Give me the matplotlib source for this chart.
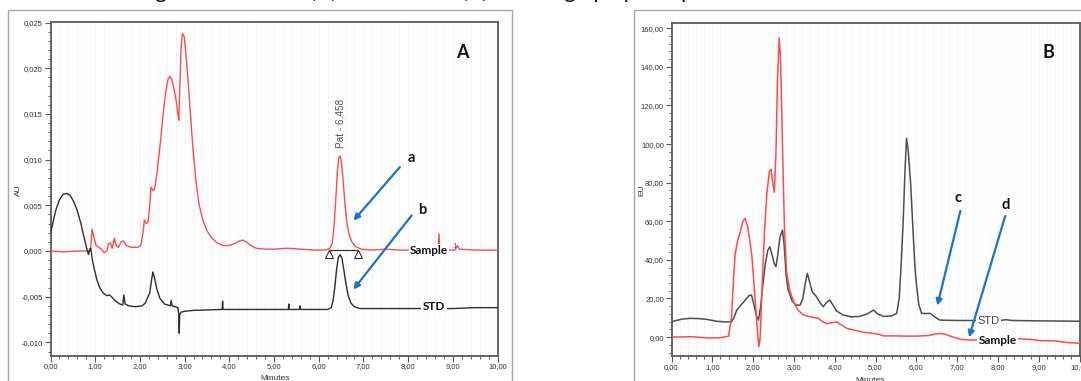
import matplotlib
matplotlib.use("Agg")
import matplotlib.pyplot as plt
from matplotlib.ticker import MultipleLocator, FuncFormatter
from matplotlib.patches import Rectangle
import matplotlib.transforms as mtransforms

# ---------------- data ----------------
# Panel A : Patulin, UV detector (AU)
a_sample_t = [0.00, 0.30, 0.60, 0.85, 0.90, 0.93, 0.97, 1.02, 1.08, 1.14, 1.20, 1.26, 1.30, 1.34,
              1.38, 1.43, 1.47, 1.52, 1.58, 1.63, 1.70, 1.80, 1.95, 2.02, 2.07, 2.10, 2.14, 2.18,
              2.22, 2.25, 2.29, 2.33, 2.38, 2.45, 2.52, 2.58, 2.63, 2.67, 2.71, 2.76, 2.81, 2.85,
              2.87, 2.89, 2.92, 2.95, 2.99, 3.03, 3.08, 3.13, 3.19, 3.25, 3.32, 3.40, 3.50, 3.60,
              3.72, 3.85, 4.00, 4.12, 4.22, 4.30, 4.38, 4.48, 4.60, 4.80, 5.00, 5.30, 5.60, 5.90,
              6.15, 6.25, 6.30, 6.34, 6.38, 6.42, 6.45, 6.48, 6.51, 6.55, 6.59, 6.63, 6.68, 6.74,
              6.82, 6.95, 7.20, 7.50, 7.80, 8.10, 8.67, 8.69, 8.71, 9.05, 9.10, 9.15, 9.50, 10.00]
a_sample_y = [0.0000, -0.0001, 0.0000, 0.0000, 0.0003, 0.0024, 0.0015, 0.0006, 0.0004, 0.0002,
              -0.0002, 0.0000, 0.0008, 0.0009, 0.0003, 0.0014, 0.0006, 0.0004, 0.0010, 0.0011,
              0.0006, 0.0004, 0.0004, 0.0006, 0.0020, 0.0034, 0.0030, 0.0032, 0.0050, 0.0070,
              0.0066, 0.0068, 0.0085, 0.0115, 0.0150, 0.0175, 0.0188, 0.0191, 0.0188, 0.0178,
              0.0165, 0.0150, 0.0143, 0.0175, 0.0220, 0.0238, 0.0235, 0.0215, 0.0185, 0.0150,
              0.0110, 0.0078, 0.0052, 0.0035, 0.0022, 0.0015, 0.0009, 0.0006, 0.0006, 0.0008,
              0.0011, 0.0012, 0.0010, 0.0006, 0.0003, 0.0002, 0.0002, 0.0003, 0.0002, 0.0001,
              0.0001, 0.0003, 0.0008, 0.0025, 0.0055, 0.0088, 0.0102, 0.0104, 0.0097, 0.0075,
              0.0050, 0.0031, 0.0018, 0.0010, 0.0005, 0.0002, 0.0001, 0.0002, 0.0001, 0.0001,
              0.0001, 0.0019, 0.0001, 0.0001, 0.0006, 0.0002, 0.0001, 0.0001]

a_std_t = [0.00, 0.05, 0.12, 0.20, 0.28, 0.36, 0.44, 0.52, 0.60, 0.68, 0.75, 0.81, 0.85, 0.88,
           0.90, 0.93, 0.98, 1.04, 1.10, 1.18, 1.26, 1.32, 1.38, 1.46, 1.55, 1.62, 1.64, 1.67,
           1.75, 1.90, 2.05, 2.12, 2.18, 2.22, 2.26, 2.29, 2.33, 2.38, 2.45, 2.55, 2.68, 2.70,
           2.72, 2.85, 2.87, 2.88, 2.89, 2.92, 3.00, 3.20, 3.84, 3.85, 3.86, 5.00, 5.32, 5.33,
           5.34, 5.57, 5.58, 5.59, 6.20, 6.28, 6.32, 6.36, 6.40, 6.44, 6.48, 6.52, 6.56, 6.61,
           6.66, 6.72, 6.80, 6.92, 7.50, 8.20, 9.00, 9.50, 10.00]
a_std_y = [0.0019, 0.0030, 0.0045, 0.0056, 0.0062, 0.0063, 0.0061, 0.0054, 0.0044, 0.0030,
           0.0015, 0.0003, -0.0004, 0.0002, 0.0003, -0.0008, -0.0020, -0.0032, -0.0040, -0.0046,
           -0.0049, -0.0048, -0.0051, -0.0055, -0.0058, -0.0059, -0.0048, -0.0058, -0.0060,
           -0.0061, -0.0060, -0.0057, -0.0050, -0.0046, -0.0032, -0.0023, -0.0030, -0.0042,
           -0.0052, -0.0058, -0.0060, -0.0054, -0.0060, -0.0062, -0.0070, -0.0090, -0.0070,
           -0.0067, -0.0066, -0.0065, -0.0064, -0.0055, -0.0064, -0.0064, -0.0064, -0.0058,
           -0.0064, -0.0064, -0.0060, -0.0064, -0.0064, -0.0062, -0.0055, -0.0040, -0.0020,
           -0.0007, -0.0004, -0.0008, -0.0020, -0.0036, -0.0049, -0.0057, -0.0061, -0.0063,
           -0.0063, -0.0063, -0.0063, -0.0062, -0.0062]

pat_peak_label = "Pat - 6,458"
pat_integration_t = [6.23, 6.88]
pat_integration_y = [0.0001, 0.0001]

# Panel B : fluorescence detector (EU)
b_sample_t = [0.00, 0.50, 0.90, 1.20, 1.40, 1.47, 1.52, 1.56, 1.62, 1.68, 1.75, 1.80, 1.86, 1.92,
              1.97, 2.02, 2.07, 2.11, 2.14, 2.17, 2.22, 2.28, 2.34, 2.40, 2.44, 2.48, 2.52, 2.56,
              2.60, 2.64, 2.67, 2.70, 2.73, 2.77, 2.82, 2.90, 3.00, 3.10, 3.23, 3.40, 3.60, 3.70,
              3.80, 3.95, 4.05, 4.15, 4.30, 4.50, 4.70, 4.95, 5.10, 5.20, 5.50, 5.80, 6.00, 6.30,
              6.45, 6.58, 6.70, 6.90, 7.10, 7.30, 7.60, 8.50, 8.80, 9.00, 9.40, 9.70, 10.00]
b_sample_y = [0.0, 0.2, -0.5, -0.3, 0.5, 10, 30, 43, 50, 54, 60, 61.5, 58, 50, 42, 28, 14, 2, -5,
              -1, 25, 55, 75, 86, 87, 80, 75, 95, 135, 155, 145, 120, 90, 55, 34, 24, 18, 14,
              11.5, 10.5, 9.7, 8, 7, 7.5, 7.8, 6.5, 4.5, 3.5, 2.5, 1.9, 1.3, 0.6, 0.6, 0.5, 0.5,
              0.8, 1.5, 1.9, 1.5, 0.0, -1.2, -1.5, -1.5, -0.8, -1.2, -1.8, -2.0, -2.8, -3.2]

b_std_t = [0.00, 0.10, 0.25, 0.45, 0.65, 0.86, 1.10, 1.30, 1.47, 1.53, 1.60, 1.70, 1.80, 1.90,
           1.96, 2.02, 2.08, 2.13, 2.18, 2.24, 2.30, 2.36, 2.41, 2.46, 2.52, 2.56, 2.60, 2.66,
           2.72, 2.76, 2.81, 2.86, 2.95, 3.05, 3.15, 3.22, 3.28, 3.33, 3.38, 3.45, 3.55, 3.65,
           3.72, 3.80, 3.88, 3.96, 4.05, 4.20, 4.40, 4.60, 4.80, 4.95, 5.05, 5.20, 5.40, 5.52,
           5.58, 5.63, 5.68, 5.72, 5.76, 5.80, 5.86, 5.92, 5.97, 6.01, 6.06, 6.13, 6.25, 6.34,
           6.45, 6.58, 7.00, 7.50, 8.00, 8.20, 8.35, 9.00, 9.60, 10.00]
b_std_y = [7.9, 8.5, 9.3, 9.7, 9.6, 9.2, 8.2, 7.9, 7.9, 10, 14, 16.5, 19, 21.5, 21.8, 17, 11, 8.8,
           15, 27, 38, 45, 46.8, 43, 38, 36.5, 42, 52, 55.4, 48, 32, 24.4, 19, 16.6, 16.5, 20, 28,
           33, 29, 23.5, 21, 17.5, 15.7, 18, 19.2, 16.5, 13.5, 11.5, 10.5, 10.7, 12, 14, 12, 10.7,
           11, 12.3, 20, 38, 60.6, 85, 103, 97, 80, 55, 35, 26, 17, 12.3, 12.2, 12.3, 10.5, 8.8,
           8.6, 8.6, 8.5, 9.0, 8.6, 8.4, 8.3, 8.2]

title_text = "Chromatogram of Patulin (A) and 5-HMF (B) of orange pulp sample"

# ---------------- figure ----------------
W, H = 1081, 381
fig = plt.figure(figsize=(W / 100, H / 100), dpi=100)
fig.patch.set_facecolor("white")


def fx(px):
    return px / W


def fy(py):
    return 1 - py / H


NARROW = ["Liberation Sans Narrow", "Liberation Sans", "DejaVu Sans"]
BOLD = ["Lato", "Open Sans", "DejaVu Sans"]
RED = "#ff4a4a"
BLUE = "#1f73c4"

# outer frames of the two panels
fig.patches.append(Rectangle((fx(8), fy(395)), fx(512) - fx(8), fy(10) - fy(395),
                             transform=fig.transFigure, fill=False, ec="#a6a6a6", lw=1.0))
fig.patches.append(Rectangle((fx(634), fy(395)), fx(1100) - fx(634), fy(10) - fy(395),
                             transform=fig.transFigure, fill=False, ec="#a6a6a6", lw=1.0))


def style_axes(ax, ymajor, yminor, fmt):
    ax.set_xlim(0, 10)
    ax.xaxis.set_major_locator(MultipleLocator(1))
    ax.xaxis.set_minor_locator(MultipleLocator(0.2))
    ax.yaxis.set_major_locator(MultipleLocator(ymajor))
    ax.yaxis.set_minor_locator(MultipleLocator(yminor))
    ax.xaxis.set_major_formatter(FuncFormatter(lambda v, p: f"{v:.2f}".replace(".", ",")))
    ax.yaxis.set_major_formatter(FuncFormatter(lambda v, p: fmt.format(v).replace(".", ",")))
    for s in ax.spines.values():
        s.set_color("#5a5a5a")
        s.set_linewidth(1.3)
    ax.tick_params(which="major", direction="out", length=4, width=0.8, color="#5a5a5a",
                   labelsize=5.5, labelcolor="#333333", pad=1.5)
    ax.tick_params(which="minor", direction="out", length=2, width=0.7, color="#5a5a5a")
    for lab in ax.get_xticklabels() + ax.get_yticklabels():
        lab.set_family(NARROW)
    ax.grid(True, which="both", axis="x", color="#f1f1f1", lw=0.6)
    ax.set_axisbelow(True)


# ---------------- panel A ----------------
axA = fig.add_axes([fx(50.5), fy(355.8), fx(497.5) - fx(50.5), fy(21.7) - fy(355.8)])
axA.set_ylim(-0.01147, 0.02509)
style_axes(axA, 0.005, 0.001, "{:.3f}")
axA.plot(a_sample_t, a_sample_y, color=RED, lw=1.0, zorder=3)
axA.plot(a_std_t, a_std_y, color="#2e2e2e", lw=1.0, zorder=3)
# integration marks of the patulin peak
axA.plot(pat_integration_t, pat_integration_y, color="#333333", lw=0.9, zorder=4)
down = mtransforms.offset_copy(axA.transData, fig=fig, x=0, y=-4, units="dots")
axA.plot(pat_integration_t, pat_integration_y, ls="none", marker="^", ms=6,
         mfc="white", mec="#333333", mew=0.8, transform=down, zorder=5)
axA.text(6.48, 0.0113, pat_peak_label, rotation=90, ha="center", va="bottom",
         fontsize=7.2, color="#555555", family=NARROW)

fig.text(fx(18), fy(190), "AU", rotation=90, ha="center", va="center", fontsize=6,
         color="#333333", family=NARROW)
fig.text(fx(275), fy(378), "Minutes", ha="center", va="center", fontsize=6,
         color="#333333", family=NARROW)

# ---------------- panel B ----------------
axB = fig.add_axes([fx(671.5), fy(356), fx(1079.5) - fx(671.5), fy(22.5) - fy(356)])
axB.set_ylim(-9.8, 163)
style_axes(axB, 20, 4, "{:.2f}")
axB.plot(b_std_t, b_std_y, color="#4d4d4d", lw=1.1, zorder=3)
axB.plot(b_sample_t, b_sample_y, color=RED, lw=1.1, zorder=3)

fig.text(fx(642), fy(190), "EU", rotation=90, ha="center", va="center", fontsize=6,
         color="#333333", family=NARROW)
fig.text(fx(870), fy(380), "Minutes", ha="center", va="center", fontsize=6,
         color="#333333", family=NARROW)

# ---------------- labels on traces ----------------
wb = dict(facecolor="white", edgecolor="none", pad=1.0)
fig.text(fx(429), fy(251), "Sample", ha="center", va="center", fontsize=8.5,
         fontweight="bold", family=BOLD, color="#111111", bbox=wb, zorder=10)
fig.text(fx(455), fy(246), "1", ha="center", va="center", fontsize=6,
         color="#5a6a8a", family=NARROW, zorder=10)
fig.text(fx(434), fy(307), "STD", ha="center", va="center", fontsize=8.5,
         fontweight="bold", family=BOLD, color="#111111", bbox=wb, zorder=10)
fig.text(fx(988.5), fy(320.5), "STD", ha="center", va="center", fontsize=8,
         color="#444444", family=NARROW, bbox=wb, zorder=10)
fig.text(fx(997.5), fy(340.5), "Sample", ha="center", va="center", fontsize=8.5,
         fontweight="bold", family=BOLD, color="#111111", bbox=wb, zorder=10)

fig.text(fx(462), fy(52), "A", ha="center", va="center", fontsize=13,
         fontweight="bold", family=BOLD, color="#111111")
fig.text(fx(1048), fy(52), "B", ha="center", va="center", fontsize=13,
         fontweight="bold", family=BOLD, color="#111111")

# ---------------- blue arrows ----------------
arrows = [("a", (411.7, 158), (401.7, 165), (351.7, 222.7)),
          ("b", (422.7, 210), (413.3, 213.3), (351.7, 291.7)),
          ("c", (957.7, 198), (961, 208.3), (936.7, 308.3)),
          ("d", (1005.7, 205), (1006, 213.3), (968.3, 340))]
for lab, tpos, start, end in arrows:
    fig.text(fx(tpos[0]), fy(tpos[1]), lab, ha="center", va="center", fontsize=10.5,
             fontweight="bold", family=BOLD, color="#111111", zorder=11)
    fig.add_artist(matplotlib.patches.FancyArrowPatch(
        (fx(start[0]), fy(start[1])), (fx(end[0]), fy(end[1])),
        transform=fig.transFigure, arrowstyle="-|>", mutation_scale=9,
        color=BLUE, lw=1.6, zorder=12))

# ---------------- cut-off caption at the very top ----------------
renderer = fig.canvas.get_renderer()
probe = fig.text(0, 0, "Chromato", fontsize=16, family=BOLD)
pw = probe.get_window_extent(renderer).width
probe.remove()
fig.text(fx(155) - pw / W, fy(-1.5), title_text, ha="left", va="baseline",
         fontsize=16, family=BOLD, color="#111111")

fig.savefig("out.png", dpi=100)
